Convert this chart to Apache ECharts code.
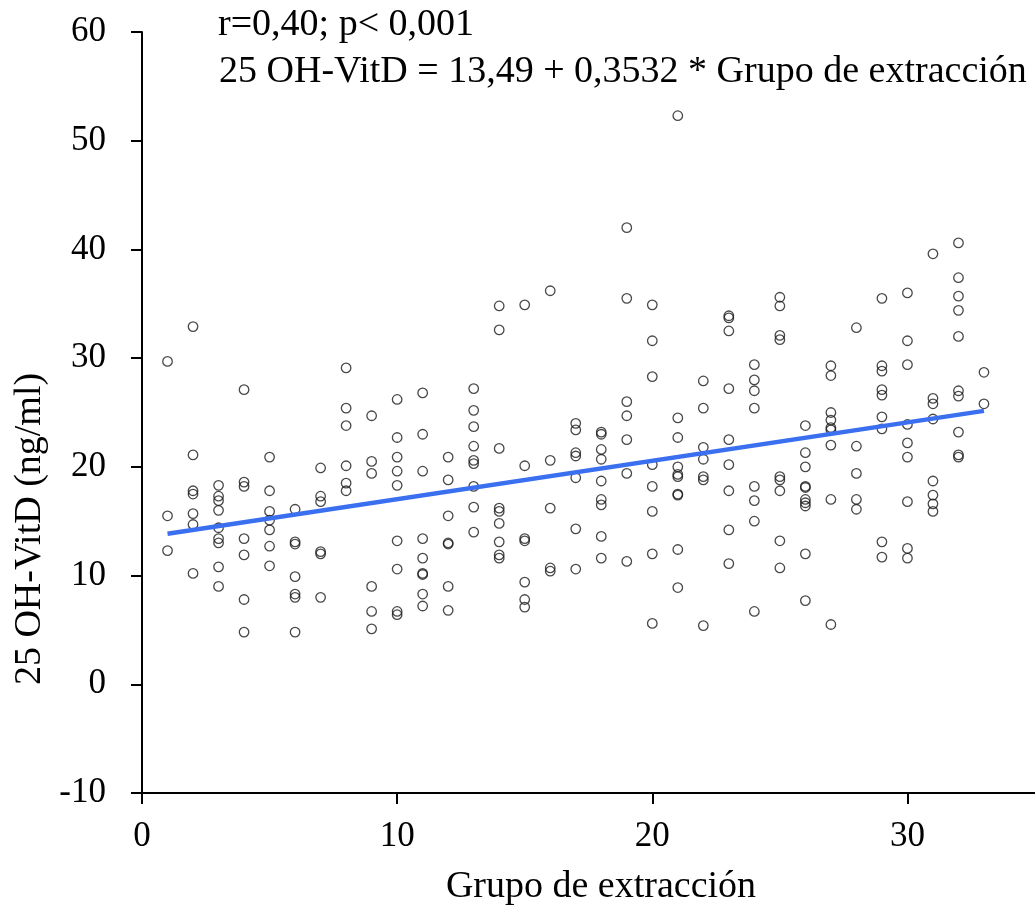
<!DOCTYPE html>
<html><head><meta charset="utf-8">
<script src="https://cdn.jsdelivr.net/npm/echarts@6/dist/echarts.min.js"></script>
<style>html,body{margin:0;padding:0;background:#fff}#c{width:1035px;height:916px}</style>
</head><body><div id="c"></div>
<script>
// Grupo de extracción (x) and the 25 OH-VitD values (ng/ml) observed in each group
const groups = [1,2,3,4,5,6,7,8,9,10,11,12,13,14,15,16,17,18,19,20,21,22,23,24,25,26,27,28,29,30,31,32,33];
const vitdByGroup = [
  [29.7, 15.5, 12.3],
  [32.9, 21.1, 17.8, 17.5, 15.7, 14.7, 10.2],
  [18.3, 17.3, 16.9, 16.0, 14.4, 13.4, 13.0, 10.8, 9.0],
  [27.1, 18.6, 18.2, 13.4, 11.9, 7.8, 4.8],
  [20.9, 17.8, 15.9, 15.1, 14.2, 12.7, 10.9],
  [16.1, 13.1, 12.9, 9.9, 8.3, 8.0, 4.8],
  [19.9, 17.3, 16.8, 12.2, 12.0, 8.0],
  [29.1, 25.4, 23.8, 20.1, 18.5, 17.8],
  [24.7, 20.5, 19.4, 9.0, 6.7, 5.1],
  [26.2, 22.7, 20.9, 19.6, 18.3, 13.2, 10.6, 6.7, 6.4],
  [26.8, 23.0, 19.6, 13.4, 11.6, 10.2, 10.1, 8.3, 7.2],
  [20.9, 18.8, 15.5, 13.0, 12.9, 9.0, 6.8],
  [27.2, 25.2, 23.7, 21.9, 20.6, 20.3, 18.2, 16.3, 14.0],
  [34.8, 32.6, 21.7, 16.2, 15.9, 14.8, 13.1, 11.9, 11.6],
  [34.9, 20.1, 13.4, 13.2, 9.4, 7.8, 7.1],
  [36.2, 20.6, 16.2, 10.7, 10.4],
  [24.0, 23.4, 21.3, 21.0, 19.0, 14.3, 10.6],
  [23.2, 23.0, 21.6, 20.7, 18.7, 17.0, 16.5, 13.6, 11.6],
  [42.0, 35.5, 26.0, 24.7, 22.5, 19.4, 11.3],
  [34.9, 31.6, 28.3, 20.2, 18.2, 15.9, 12.0, 5.6],
  [52.3, 24.5, 22.7, 20.0, 19.3, 19.1, 17.5, 17.4, 12.4, 8.9],
  [27.9, 25.4, 21.8, 20.7, 19.1, 18.8, 5.4],
  [33.9, 33.7, 32.5, 27.2, 22.5, 20.2, 17.8, 14.2, 11.1],
  [29.4, 28.0, 27.0, 25.4, 18.2, 16.9, 15.0, 6.7],
  [35.6, 34.8, 32.1, 31.7, 19.1, 18.8, 17.8, 13.2, 10.7],
  [23.8, 21.3, 20.0, 18.2, 18.1, 17.0, 16.7, 16.4, 12.0, 7.7],
  [29.3, 28.4, 25.0, 24.3, 23.6, 23.4, 22.0, 17.0, 5.5],
  [32.8, 21.9, 19.4, 17.0, 16.1],
  [35.5, 29.3, 28.8, 27.1, 26.6, 24.6, 23.5, 13.1, 11.7],
  [36.0, 31.6, 29.4, 23.9, 22.2, 20.9, 16.8, 12.5, 11.6],
  [39.6, 26.3, 25.8, 24.4, 18.7, 17.4, 16.6, 15.9],
  [40.6, 37.4, 35.7, 34.4, 32.0, 27.0, 26.5, 23.2, 21.1, 20.9],
  [28.7, 25.8]
];
// fitted regression line end points (as drawn)
const fitX = [1, 33];
const fitY = [13.84, 25.15];
const xTickValues = [0, 10, 20, 30];
const statText = 'r=0,40; p< 0,001';
const eqText = '25 OH-VitD = 13,49 + 0,3532 * Grupo de extracción';
const xTitle = 'Grupo de extracción';
const yTitle = '25 OH-VitD (ng/ml)';

const FONT = '"Liberation Serif", "Times New Roman", serif';
const points = [];
groups.forEach((g, i) => vitdByGroup[i].forEach(v => points.push([g, v])));
const fitData = fitX.map((x, i) => [x, fitY[i]]);

const chart = echarts.init(document.getElementById('c'), null, {renderer: 'canvas'});
chart.setOption({
  backgroundColor: '#fff',
  animation: false,
  grid: {left: 142, top: 32, width: 899.5, height: 761, containLabel: false},
  xAxis: {
    type: 'value', min: 0, max: 35, interval: 10,
    axisLine: {show: true, onZero: false, lineStyle: {color: '#000', width: 2}},
    axisTick: {show: true, length: 11, lineStyle: {color: '#000', width: 2}, customValues: xTickValues},
    axisLabel: {color: '#000', fontFamily: FONT, fontSize: 35, margin: 26, customValues: xTickValues},
    splitLine: {show: false}
  },
  yAxis: {
    type: 'value', min: -10, max: 60, interval: 10,
    axisLine: {show: true, onZero: false, lineStyle: {color: '#000', width: 2}},
    axisTick: {show: true, length: 11, lineStyle: {color: '#000', width: 2}},
    axisLabel: {color: '#000', fontFamily: FONT, fontSize: 35, margin: 36},
    splitLine: {show: false}
  },
  series: [
    {
      type: 'scatter', data: points, symbol: 'circle', symbolSize: 9.5,
      itemStyle: {color: 'rgba(0,0,0,0)', borderColor: '#1a1a1a', borderWidth: 1.3},
      z: 2
    },
    {
      type: 'line', data: fitData, symbol: 'none',
      lineStyle: {color: '#3a6ff0', width: 4.5}, z: 3
    }
  ],
  graphic: [
    {type: 'text', x: 218, y: 25, style: {text: statText, font: '38px ' + FONT, fill: '#000', textAlign: 'left', textVerticalAlign: 'middle'}},
    {type: 'text', x: 219, y: 72, style: {text: eqText, font: '38px ' + FONT, fill: '#000', textAlign: 'left', textVerticalAlign: 'middle'}},
    {type: 'text', x: 601, y: 887, style: {text: xTitle, font: '38px ' + FONT, fill: '#000', textAlign: 'center', textVerticalAlign: 'middle'}},
    {type: 'text', x: 30, y: 529, rotation: Math.PI / 2, style: {text: yTitle, font: '38px ' + FONT, fill: '#000', textAlign: 'center', textVerticalAlign: 'middle'}}
  ]
});
</script></body></html>
